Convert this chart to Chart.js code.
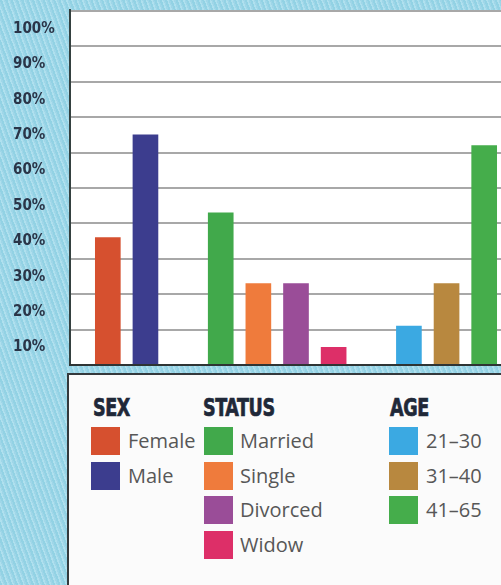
<!DOCTYPE html>
<html>
<head>
<meta charset="utf-8">
<script src="https://cdn.jsdelivr.net/npm/chart.js@4/dist/chart.umd.min.js"></script>
<style>
  html, body { margin: 0; padding: 0; width: 501px; height: 585px; overflow: hidden; }
  body {
    position: relative;
    background: repeating-linear-gradient(70deg, #92d2e4 0px, #92d2e4 2px, #afe0ee 2px, #afe0ee 3.5px, #9fd6e8 3.5px, #9fd6e8 5px);
  }
  #wrap { position: absolute; left: 0; top: 0; width: 520px; height: 374px; }
  #legendBox {
    position: absolute; left: 67px; top: 373px; width: 500px; height: 300px;
    border: 2px solid #34393c; background: #fbfbfb;
  }
  .hd {
    position: absolute; font-family: 'DejaVu Sans Condensed', 'Liberation Sans Narrow', sans-serif;
    font-weight: bold; font-size: 25px; line-height: 26px; color: #1f2838;
    -webkit-text-stroke: 0.7px #1f2838;
    transform: scaleX(0.78); transform-origin: left top; white-space: nowrap; letter-spacing: -0.5px;
  }
  .sw { position: absolute; width: 29px; height: 28px; }
  .tx {
    position: absolute; font-family: 'Open Sans', sans-serif; font-size: 20px; line-height: 28px;
    color: #575757; white-space: nowrap;
  }
</style>
</head>
<body>
<div id="wrap"><canvas id="c"></canvas></div>
<div id="legendBox"></div>
<div id="legend"></div>
<script>
// ---- Data ----
const sexLabels = ['Female', 'Male'];
const sexValues = [36, 65];
const sexColors = ['#d6502f', '#3c3d8e'];

const statusLabels = ['Married', 'Single', 'Divorced', 'Widow'];
const statusValues = [43, 23, 23, 5];
const statusColors = ['#41a94b', '#ef7b3c', '#9a4d98', '#dd2f68'];

const ageLabels = ['21–30', '31–40', '41–65'];
const ageValues = [11, 23, 62];
const ageColors = ['#3ba9e2', '#b8883f', '#45ad4b'];

const yTickLabels = ['', '10%', '20%', '30%', '40%', '50%', '60%', '70%', '80%', '90%', '100%'];

const groupTitles = ['SEX', 'STATUS', 'AGE'];

// ---- Build chart data (gap category between groups) ----
const labels = [...sexLabels, '', ...statusLabels, '', ...ageLabels];
const values = [...sexValues, null, ...statusValues, null, ...ageValues];
const colors = [...sexColors, 'rgba(0,0,0,0)', ...statusColors, 'rgba(0,0,0,0)', ...ageColors];

const TICK_LEN = 19;

const panelPlugin = {
  id: 'panel',
  beforeDraw(chart) {
    const { ctx, chartArea: a } = chart;
    ctx.save();
    ctx.fillStyle = '#ffffff';
    ctx.fillRect(a.left - TICK_LEN, a.top - 1, chart.width - (a.left - TICK_LEN), a.bottom - a.top + 1);
    ctx.restore();
  },
  afterDraw(chart) {
    const { ctx, chartArea: a } = chart;
    ctx.save();
    ctx.strokeStyle = '#34403f';
    ctx.lineWidth = 2;
    ctx.beginPath();
    ctx.moveTo(a.left - TICK_LEN, a.top - 2);
    ctx.lineTo(a.left - TICK_LEN, a.bottom + 1);
    ctx.stroke();
    ctx.strokeStyle = '#2e3434';
    ctx.beginPath();
    ctx.moveTo(a.left - TICK_LEN - 1, a.bottom);
    ctx.lineTo(chart.width, a.bottom);
    ctx.stroke();
    ctx.restore();
  }
};

new Chart(document.getElementById('c'), {
  type: 'bar',
  data: {
    labels: labels,
    datasets: [{
      data: values,
      backgroundColor: colors,
      borderWidth: 0,
      barThickness: 25
    }]
  },
  options: {
    responsive: true,
    maintainAspectRatio: false,
    animation: false,
    layout: { padding: { top: 11, bottom: 9, left: 13, right: 17 } },
    plugins: { legend: { display: false }, tooltip: { enabled: false } },
    scales: {
      x: { display: false },
      y: {
        min: 0, max: 100,
        border: { display: false },
        grid: { color: '#a8a8a8', lineWidth: 2, drawTicks: true, tickLength: TICK_LEN, tickColor: '#a8a8a8' },
        ticks: {
          stepSize: 10,
          crossAlign: 'far',
          labelOffset: 18,
          color: '#2a3548',
          font: { family: "'DejaVu Sans Condensed', sans-serif", size: 15, weight: 'bold' },
          callback: (v, i) => yTickLabels[i]
        },
        afterFit: (s) => { s.width = 76; s.paddingTop = 0; s.paddingBottom = 0; }
      }
    }
  },
  plugins: [panelPlugin]
});

// ---- HTML legend (real text) ----
const legendGroups = [
  { title: groupTitles[0], items: sexLabels, colors: sexColors, hx: 93, sx: 91, tx: 128 },
  { title: groupTitles[1], items: statusLabels, colors: statusColors, hx: 203, sx: 204, tx: 240 },
  { title: groupTitles[2], items: ageLabels, colors: ageColors, hx: 390, sx: 389, tx: 426 }
];
const leg = document.getElementById('legend');
legendGroups.forEach(g => {
  const h = document.createElement('div');
  h.className = 'hd'; h.textContent = g.title;
  h.style.left = g.hx + 'px'; h.style.top = '395px';
  leg.appendChild(h);
  g.items.forEach((t, i) => {
    const top = 427 + i * 34.7;
    const s = document.createElement('div');
    s.className = 'sw'; s.style.left = g.sx + 'px'; s.style.top = top + 'px';
    s.style.background = g.colors[i];
    leg.appendChild(s);
    const x = document.createElement('div');
    x.className = 'tx'; x.textContent = t;
    x.style.left = g.tx + 'px'; x.style.top = top + 'px';
    leg.appendChild(x);
  });
});
</script>
</body>
</html>
